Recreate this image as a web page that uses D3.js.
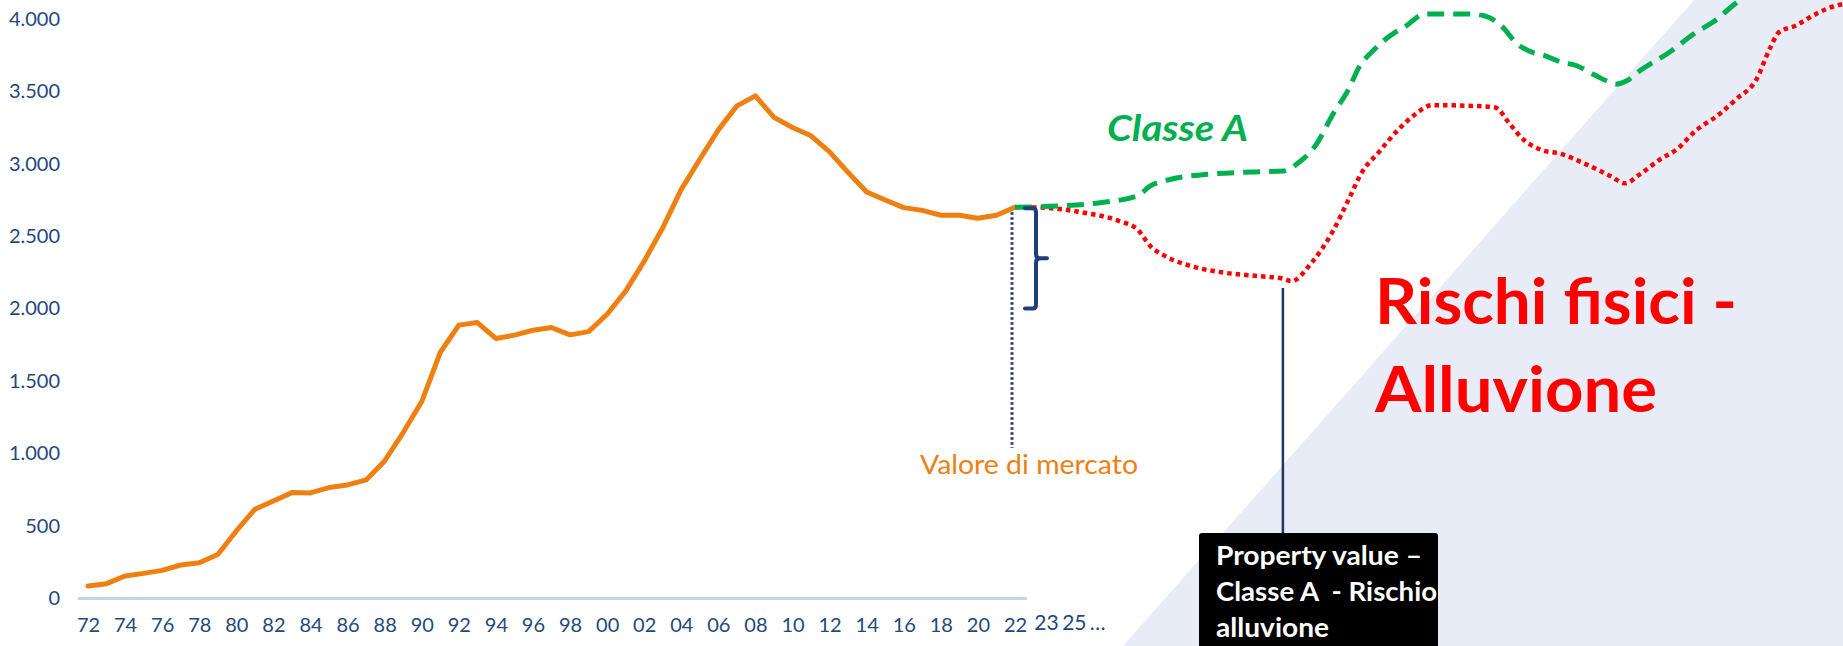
<!DOCTYPE html>
<html>
<head>
<meta charset="utf-8">
<script src="https://cdn.jsdelivr.net/npm/d3@7"></script>
<style>
  html, body { margin: 0; padding: 0; background: #ffffff; }
  svg { display: block; font-family: Carlito, Calibri, Lato, sans-serif; }
</style>
</head>
<body>
<svg id="chart" width="1843" height="646"></svg>
<script>
// ---------------- DATA ----------------
const years = [1972,1973,1974,1975,1976,1977,1978,1979,1980,1981,1982,1983,1984,1985,1986,1987,1988,1989,1990,1991,
  1992,1993,1994,1995,1996,1997,1998,1999,2000,2001,2002,2003,2004,2005,2006,2007,2008,2009,2010,2011,
  2012,2013,2014,2015,2016,2017,2018,2019,2020,2021,2022];
const marketValues = [83,99,152,170,191,228,244,300,463,613,670,728,726,763,781,816,947,1143,1357,1696,
  1885,1903,1793,1816,1850,1869,1818,1840,1960,2120,2327,2558,2823,3031,3234,3400,3469,3320,3250,3193,
  3082,2939,2805,2750,2697,2678,2644,2644,2623,2644,2700];

const classeAPeriod = [2022,2024.3,2026.6,2028.6,2029.3,2030.4,2032.4,2034.7,2036.5,2037.3,2038.2,2039.2,2040.0,2040.5,
  2041.4,2042.5,2043.0,2044.1,2046.3,2047.3,2048.4,2049.0,2049.7,2050.6,2051.5,2052.3,2053.0,2053.9,2054.4,2055.0,
  2055.7,2057.3,2058.6,2060.0,2060.5,2062.3];
const classeAValues = [2700,2708,2731,2778,2847,2893,2927,2943,2950,3008,3124,3354,3516,3654,
  3792,3908,3943,4035,4035,4023,3931,3838,3780,3746,3700,3677,3631,3573,3550,3573,
  3642,3770,3896,4012,4069,4240];

const rischioPeriod = [2022,2023.4,2025.7,2027.6,2028.6,2029.3,2030.1,2031.5,2033.3,2035.1,2036.5,2036.9,2038.0,2039.1,
  2040.0,2040.7,2041.6,2042.7,2043.6,2044.5,2047.3,2047.9,2048.7,2049.4,2050.3,2051.5,2052.6,2054.1,2054.9,2055.7,
  2056.8,2057.7,2058.7,2060.0,2060.9,2062.0,2062.7,2063.2,2064.1,2065.2,2066.3,2067.2];
const rischioValues = [2700,2697,2662,2605,2547,2431,2362,2293,2247,2224,2205,2189,2316,2524,
  2754,2939,3077,3239,3343,3405,3396,3389,3273,3170,3100,3066,3008,2916,2865,2927,
  3031,3100,3227,3343,3446,3585,3792,3908,3954,4035,4093,4110];

const yTicks = [0,500,1000,1500,2000,2500,3000,3500,4000];
const xTicks = [1972,1974,1976,1978,1980,1982,1984,1986,1988,1990,1992,1994,1996,1998,2000,
  2002,2004,2006,2008,2010,2012,2014,2016,2018,2020,2022];
const futureTickLabels = ["23","25","…"];
const futureTickAt = [2023.7,2025.2,2026.45];

const labelMarket = "Valore di mercato";
const labelClasse = "Classe A";
const labelRischi = ["Rischi fisici -", "Alluvione"];
const labelBox = ["Property value –", "Classe A  - Rischio", "alluvione"];
const bracketRange = [2000, 2700];
const connectorAt = 2036.45;

// ---------------- SCALES ----------------
const svg = d3.select("#chart");
const x = d3.scaleLinear().domain([1972, 2022]).range([88, 1015]);
const y = d3.scaleLinear().domain([0, 4000]).range([598, 19]);
const fmt = d3.formatLocale({decimal: ",", thousands: ".", grouping: [3], currency: ["", ""]}).format(",");

const NAVY = "#1f497d";
const ORANGE = "#ee8012";
const GREEN = "#00b050";
const RED = "#ff0000";

function fit(sel, w) {
  sel.attr("textLength", w).attr("lengthAdjust", "spacingAndGlyphs");
  return sel;
}

// background triangle
svg.append("polygon")
  .attr("points", [[1123, 646], [1694, 0], [1843, 0], [1843, 646]].map(p => p.join(",")).join(" "))
  .attr("fill", "#e8ecf6");

// x axis baseline
svg.append("line")
  .attr("x1", x(1971.45)).attr("x2", x(2022.65))
  .attr("y1", y(0) + 0.5).attr("y2", y(0) + 0.5)
  .attr("stroke", "#bdd7ee").attr("stroke-width", 3);

// y axis labels
const yAxis = svg.append("g").attr("transform", "translate(60,0)")
  .call(d3.axisLeft(y).tickValues(yTicks).tickSize(0).tickPadding(0).tickFormat(fmt));
yAxis.select(".domain").remove();
yAxis.selectAll("text").attr("fill", NAVY).attr("font-size", 20).attr("font-family", "Lato, sans-serif");

// x axis labels
const xAxis = svg.append("g").attr("transform", `translate(0,${y(0)})`)
  .call(d3.axisBottom(x).tickValues(xTicks).tickSize(0).tickPadding(0)
    .tickFormat(d => String(d % 100).padStart(2, "0")));
xAxis.select(".domain").remove();
xAxis.selectAll("text").attr("fill", NAVY).attr("font-size", 20).attr("font-family", "Lato, sans-serif")
  .attr("dy", null).attr("y", 34);

svg.append("g").selectAll("text").data(futureTickLabels).join("text")
  .attr("x", (d, i) => x(futureTickAt[i])).attr("y", y(0) + 32)
  .attr("text-anchor", "middle").attr("fill", NAVY)
  .attr("font-family", "Lato, sans-serif").attr("font-size", 21)
  .text(d => d);

// dotted vertical at 2022
svg.append("line")
  .attr("x1", x(2022) - 3).attr("x2", x(2022) - 3)
  .attr("y1", y(2700)).attr("y2", 448)
  .attr("stroke", "#203864").attr("stroke-width", 3).attr("stroke-dasharray", "2.5,2.5");

// "Valore di mercato"
fit(svg.append("text").attr("x", 920).attr("y", 474).attr("fill", ORANGE)
  .attr("font-family", "Lato, sans-serif").attr("font-size", 26.5).text(labelMarket), 218);

// market line
const marketData = years.map((yr, i) => ({t: yr, v: marketValues[i]}));
svg.append("path").datum(marketData)
  .attr("fill", "none").attr("stroke", ORANGE).attr("stroke-width", 5)
  .attr("stroke-linejoin", "round").attr("stroke-linecap", "round")
  .attr("d", d3.line().x(d => x(d.t)).y(d => y(d.v)));

// red dotted line (risk)
const redData = rischioPeriod.map((t, i) => ({t, v: rischioValues[i]}));
svg.append("path").datum(redData)
  .attr("fill", "none").attr("stroke", RED).attr("stroke-width", 4.5)
  .attr("stroke-dasharray", "4.5,4")
  .attr("d", d3.line().curve(d3.curveMonotoneX).x(d => x(d.t)).y(d => y(d.v)));

// green dashed line (Classe A)
const greenData = classeAPeriod.map((t, i) => ({t, v: classeAValues[i]}));
svg.append("path").datum(greenData)
  .attr("fill", "none").attr("stroke", GREEN).attr("stroke-width", 5)
  .attr("stroke-dasharray", "17,9")
  .attr("d", d3.line().curve(d3.curveMonotoneX).x(d => x(d.t)).y(d => y(d.v)));

// bracket
const bx = x(2022) + 10, bTop = y(bracketRange[1]) + 1, bBot = y(bracketRange[0]), bMid = (bTop + bBot) / 2;
svg.append("path")
  .attr("d", `M${bx},${bTop} L${bx + 8},${bTop} Q${bx + 11},${bTop} ${bx + 11},${bTop + 4}` +
    ` L${bx + 11},${bMid - 4} Q${bx + 11},${bMid} ${bx + 16},${bMid} L${bx + 22},${bMid}` +
    ` M${bx + 16},${bMid} Q${bx + 11},${bMid} ${bx + 11},${bMid + 4}` +
    ` L${bx + 11},${bBot - 4} Q${bx + 11},${bBot} ${bx + 8},${bBot} L${bx},${bBot}`)
  .attr("fill", "none").attr("stroke", "#1f3f7a").attr("stroke-width", 4).attr("stroke-linecap", "round");

// "Classe A"
fit(svg.append("text").attr("x", 1107).attr("y", 141).attr("fill", GREEN)
  .attr("font-family", "Lato, sans-serif").attr("font-weight", 700).attr("font-style", "italic")
  .attr("font-size", 37).text(labelClasse), 141);

// "Rischi fisici - Alluvione"
const rischiWidths = [362, 282];
svg.append("g").selectAll("text").data(labelRischi).join("text")
  .attr("x", 1375).attr("y", (d, i) => 324 + i * 88)
  .attr("fill", RED).attr("font-family", "Lato, sans-serif").attr("font-weight", 700)
  .attr("font-size", 64).text(d => d)
  .each(function(d, i) { fit(d3.select(this), rischiWidths[i]); });

// connector from red min to box
const connX = x(connectorAt);
svg.append("line").attr("x1", connX).attr("x2", connX).attr("y1", 288).attr("y2", 533)
  .attr("stroke", "#1f3864").attr("stroke-width", 2.5);

// black box
svg.append("rect").attr("x", 1199).attr("y", 533).attr("width", 239).attr("height", 130)
  .attr("rx", 3).attr("fill", "#000000");
const boxWidths = [206, 221, 113];
svg.append("g").selectAll("text").data(labelBox).join("text")
  .attr("x", 1216).attr("y", (d, i) => 565 + i * 36)
  .attr("fill", "#ffffff").attr("font-family", "Lato, sans-serif").attr("font-weight", 700)
  .attr("font-size", 26).attr("xml:space", "preserve").style("white-space", "pre").text(d => d)
  .each(function(d, i) { fit(d3.select(this), boxWidths[i]); });
</script>
</body>
</html>
